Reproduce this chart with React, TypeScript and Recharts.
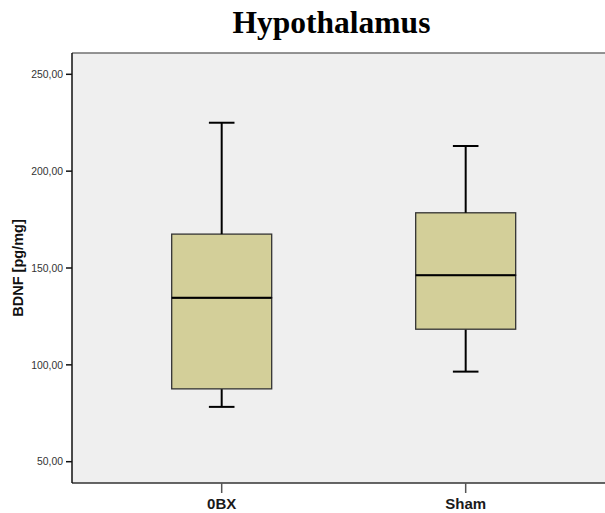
import { ComposedChart, Bar, XAxis, YAxis, CartesianGrid, ReferenceLine, Label } from "recharts";

// five-number summaries per group, BDNF [pg/mg]
const groups = ["0BX", "Sham"];
const mins = [78.3, 96.5];
const q1s = [87.6, 118.4];
const medians = [134.6, 146.3];
const q3s = [167.5, 178.5];
const maxes = [225.0, 213.0];
const yTicks = [50, 100, 150, 200, 250];

const Y_MIN = 39;
const Y_MAX = 261;
const BOX_FILL = "#d3cf99";
const CAP_HALF = 12.8;

const rows = groups.map((name, i) => ({
  pos: i + 1,
  name,
  base: mins[i],
  lowWhisker: q1s[i] - mins[i],
  lowBox: medians[i] - q1s[i],
  highBox: q3s[i] - medians[i],
  highWhisker: maxes[i] - q3s[i],
}));

// whisker below the box: stem plus cap at the minimum
function LowWhisker(p: any) {
  const cx = p.x + p.width / 2;
  const bottom = p.y + p.height;
  return (
    <g>
      <line x1={cx} x2={cx} y1={p.y} y2={bottom} stroke="#000" strokeWidth={2} />
      <line x1={cx - CAP_HALF} x2={cx + CAP_HALF} y1={bottom} y2={bottom} stroke="#000" strokeWidth={2} />
    </g>
  );
}

// whisker above the box: stem plus cap at the maximum
function HighWhisker(p: any) {
  const cx = p.x + p.width / 2;
  return (
    <g>
      <line x1={cx} x2={cx} y1={p.y} y2={p.y + p.height} stroke="#000" strokeWidth={2} />
      <line x1={cx - CAP_HALF} x2={cx + CAP_HALF} y1={p.y} y2={p.y} stroke="#000" strokeWidth={2} />
    </g>
  );
}

function LowBox(p: any) {
  return <rect x={p.x} y={p.y} width={p.width} height={p.height} fill={BOX_FILL} stroke="#333" strokeWidth={1.3} />;
}

// upper half of the box, median drawn along its bottom edge
function HighBox(p: any) {
  const bottom = p.y + p.height;
  return (
    <g>
      <rect x={p.x} y={p.y} width={p.width} height={p.height} fill={BOX_FILL} stroke="#333" strokeWidth={1.3} />
      <line x1={p.x} x2={p.x + p.width} y1={bottom} y2={bottom} stroke="#000" strokeWidth={2} />
    </g>
  );
}

const fmt = (v: number) => v.toFixed(2).replace(".", ",");

export default function App() {
  return (
    <div style={{ position: "relative", width: 605, height: 513, background: "#fff" }}>
      <style>{"body{margin:0}"}</style>
      <div
        style={{
          position: "absolute",
          top: 7,
          left: 0,
          width: 663,
          textAlign: "center",
          fontFamily: "'Liberation Serif', 'Times New Roman', serif",
          fontWeight: "bold",
          fontSize: 31.5,
          lineHeight: "31px",
          color: "#000",
        }}
      >
        Hypothalamus
      </div>
      <ComposedChart
        width={605}
        height={513}
        data={rows}
        margin={{ top: 53, right: 0, bottom: 0, left: 0 }}
        barSize={100}
      >
        <CartesianGrid fill="#efefef" horizontal={false} vertical={false} />
        <XAxis
          type="number"
          dataKey="pos"
          domain={[0.3865, 2.571]}
          ticks={[1, 2]}
          allowDataOverflow
          tickFormatter={(v: number) => groups[v - 1]}
          height={30}
          tickSize={10}
          tickMargin={5}
          axisLine={{ stroke: "#333", strokeWidth: 1.5 }}
          tickLine={{ stroke: "#555", strokeWidth: 1.5 }}
          tick={{ fontSize: 15, fontWeight: "bold", fill: "#1a1a1a", fontFamily: "'Liberation Sans', Arial, sans-serif" }}
        />
        <YAxis
          type="number"
          domain={[Y_MIN, Y_MAX]}
          ticks={yTicks}
          allowDataOverflow
          width={72}
          tickSize={6}
          tickMargin={3}
          tickFormatter={fmt}
          axisLine={{ stroke: "#111", strokeWidth: 1.5 }}
          tickLine={{ stroke: "#111", strokeWidth: 1.5 }}
          tick={{ fontSize: 10.4, fill: "#333", fontFamily: "'Liberation Sans', Arial, sans-serif" }}
        >
          <Label
            value="BDNF [pg/mg]"
            angle={-90}
            position="insideLeft"
            offset={0}
            dx={18}
            style={{ fontSize: 14.5, fontWeight: "bold", fill: "#111", fontFamily: "'Liberation Sans', Arial, sans-serif", textAnchor: "middle" }}
          />
        </YAxis>
        <ReferenceLine y={Y_MAX} stroke="#707070" strokeWidth={1.5} />
        <Bar dataKey="base" stackId="box" fill="transparent" isAnimationActive={false} />
        <Bar dataKey="lowWhisker" stackId="box" shape={LowWhisker} isAnimationActive={false} />
        <Bar dataKey="lowBox" stackId="box" shape={LowBox} isAnimationActive={false} />
        <Bar dataKey="highBox" stackId="box" shape={HighBox} isAnimationActive={false} />
        <Bar dataKey="highWhisker" stackId="box" shape={HighWhisker} isAnimationActive={false} />
      </ComposedChart>
    </div>
  );
}
